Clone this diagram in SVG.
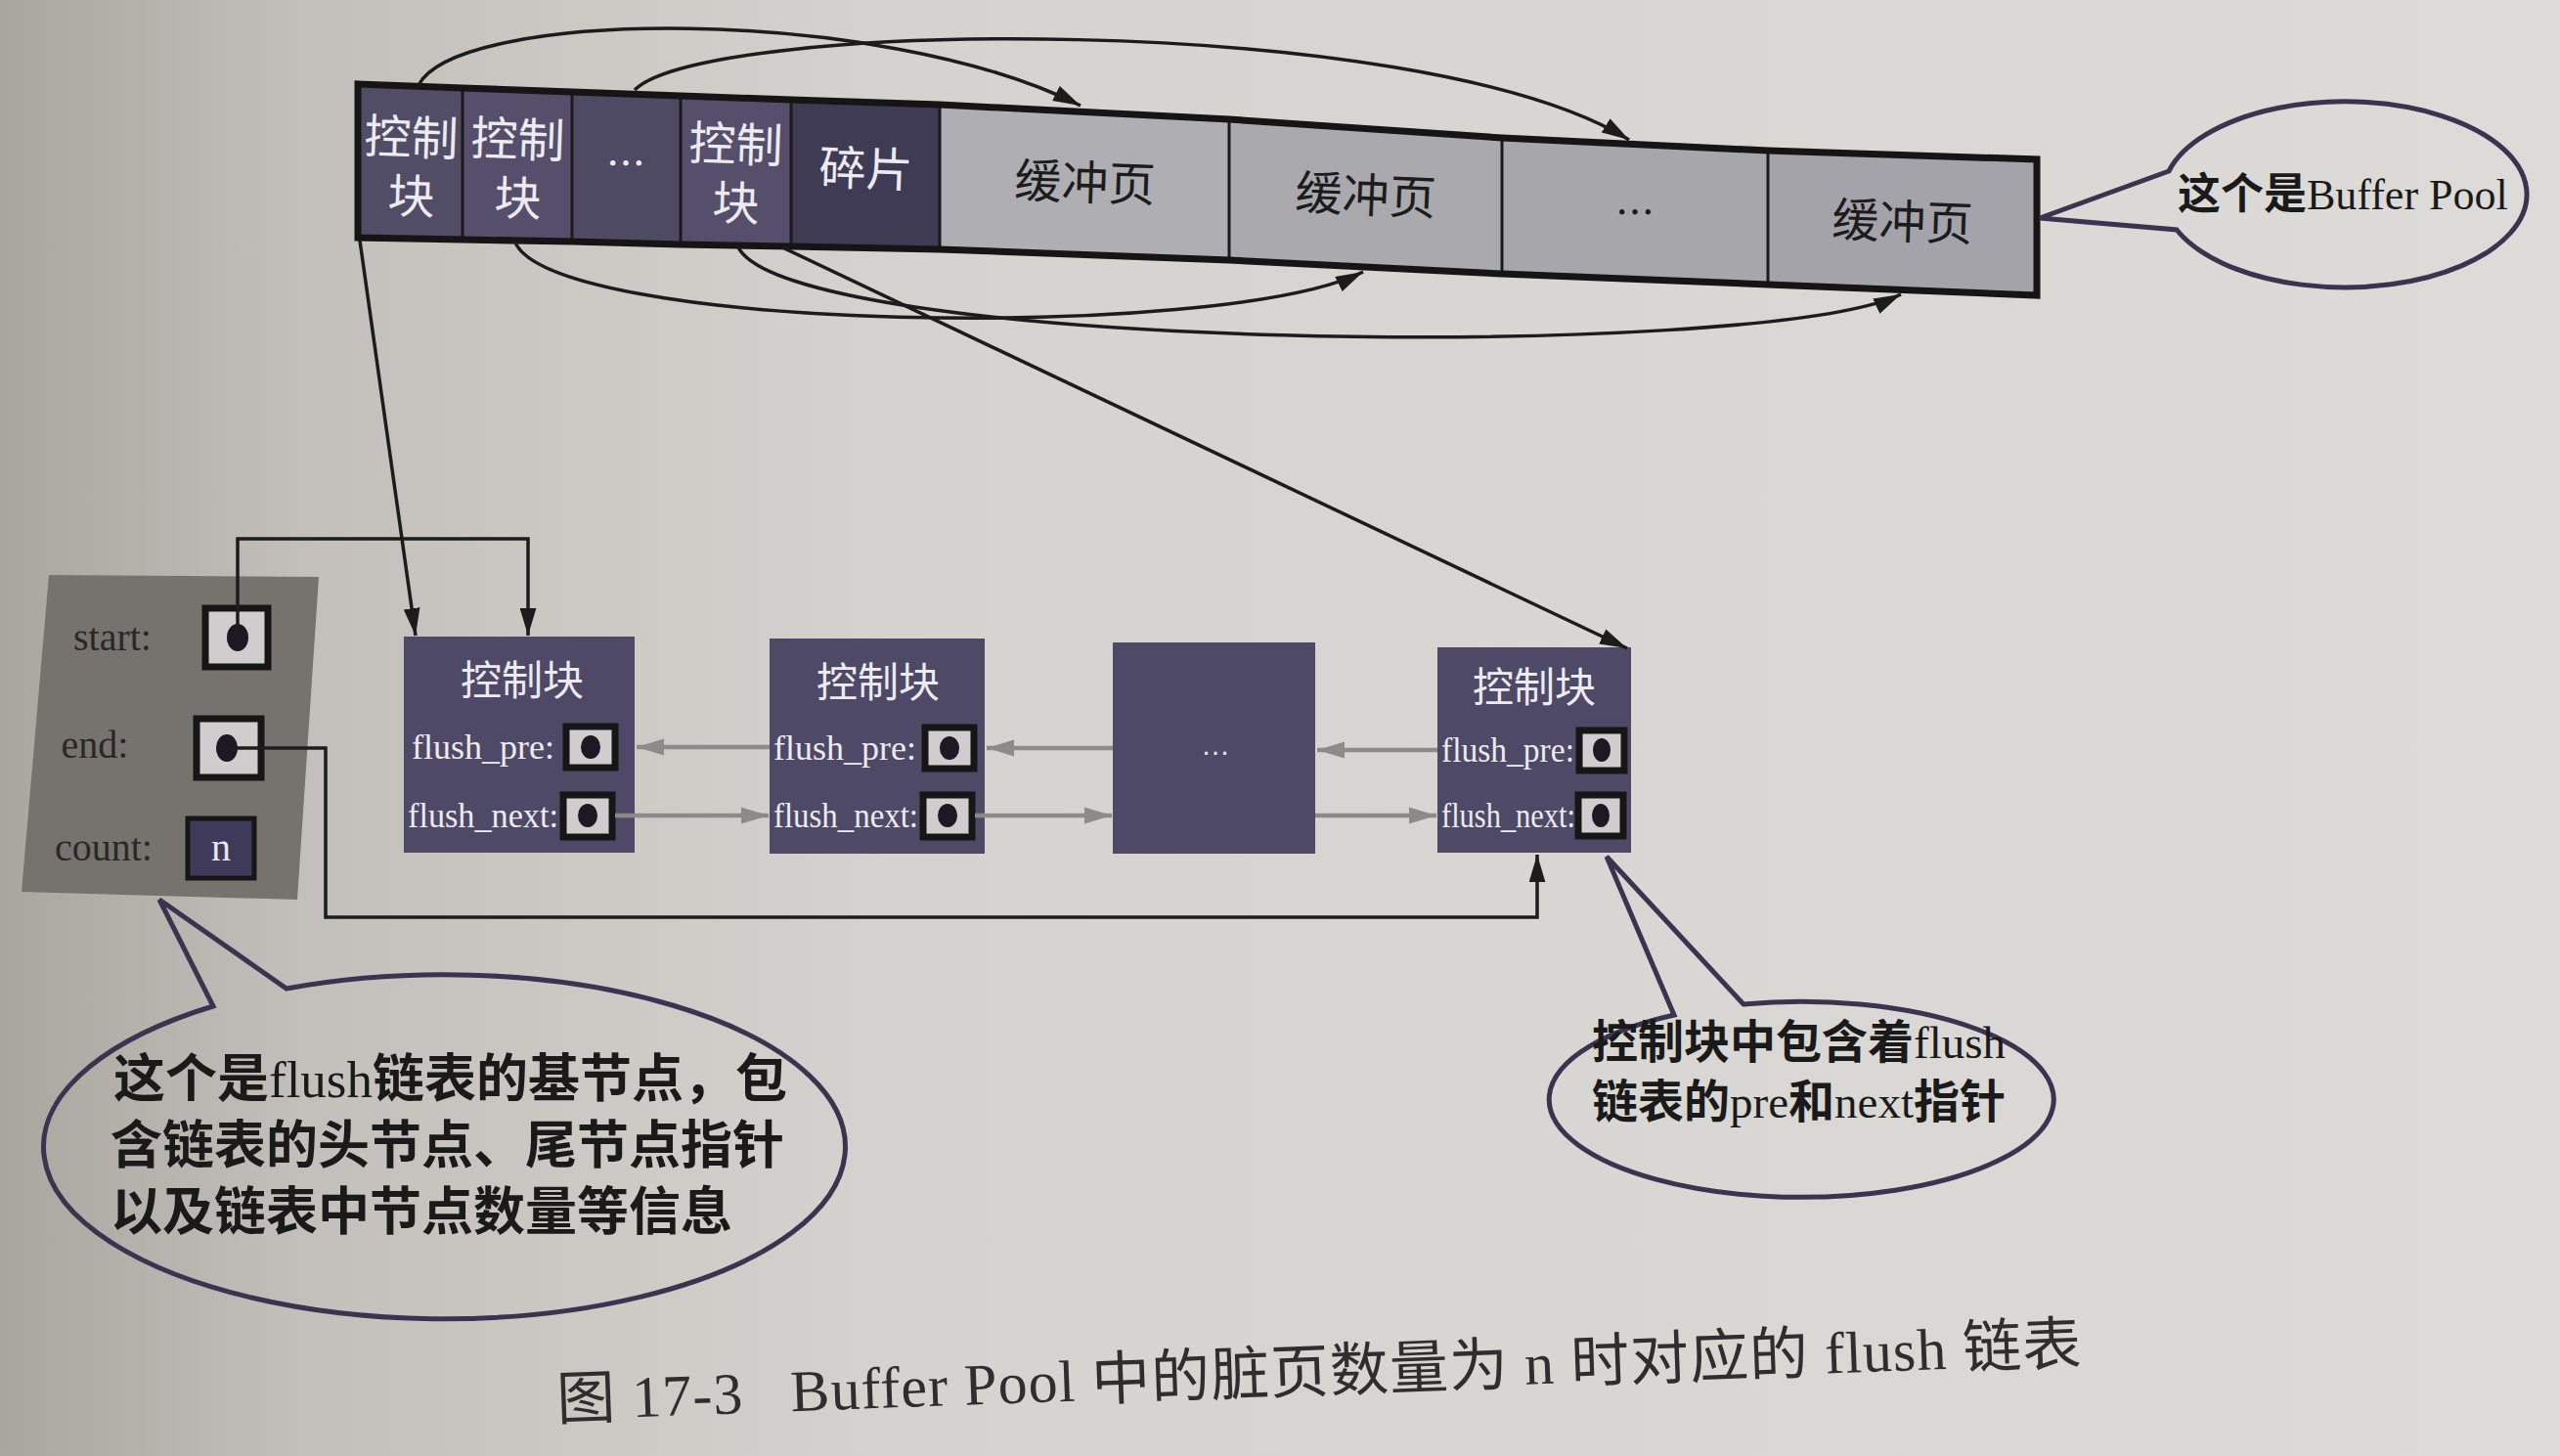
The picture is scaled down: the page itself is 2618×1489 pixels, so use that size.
<svg xmlns="http://www.w3.org/2000/svg" width="2618" height="1489" viewBox="0 0 2618 1489">
<defs>
<linearGradient id="paper" x1="0" y1="0" x2="1" y2="0">
<stop offset="0" stop-color="#a9a6a0"/>
<stop offset="0.12" stop-color="#c3c0bb"/>
<stop offset="0.35" stop-color="#d5d3cf"/>
<stop offset="1" stop-color="#dddbd8"/>
</linearGradient>
<marker id="ab" viewBox="0 0 20 12" refX="20" refY="6" markerWidth="28" markerHeight="17" markerUnits="userSpaceOnUse" orient="auto"><path d="M0,0 L20,6 L0,12 z" fill="#1c1c1c"/></marker>
<marker id="ag" viewBox="0 0 20 12" refX="20" refY="6" markerWidth="28" markerHeight="18" markerUnits="userSpaceOnUse" orient="auto"><path d="M0,0 L20,6 L0,12 z" fill="#8c8b89"/></marker>
<style>
.cjkw{font-family:"Noto Sans CJK SC",sans-serif;fill:#ecebf2;text-anchor:middle}
.cjkb{font-family:"Noto Sans CJK SC",sans-serif;fill:#1c1c1c;text-anchor:middle}
.dark{stroke:#1a1a1a;stroke-width:3}
.lbl{font-family:"Liberation Serif",serif;fill:#ecebf2;font-size:36px}
.blbl{font-family:"Liberation Serif",serif;fill:#2a2826;font-size:40px;text-anchor:middle}
.ptr{fill:#cfcdcd;stroke:#161616;stroke-width:7}
.dot{fill:#1d1824}
.fbox{fill:#4f4968}
.conn{fill:none;stroke:#1c1c1c;stroke-width:3.5}
.gconn{fill:none;stroke:#8c8b89;stroke-width:4.5}
.bub{fill:none;stroke:#3a3450;stroke-width:5;stroke-linejoin:miter}
.btxt{font-family:"Liberation Serif","Noto Sans CJK SC",serif;fill:#1a1a1a;font-weight:bold}
.lat{font-weight:normal}
</style>
</defs>
<rect x="0" y="0" width="2618" height="1489" fill="url(#paper)"/>

<g id="buffer-pool">
<polygon points="366,86 473,90 473,245 366,243" fill="#524d67"/>
<polygon points="473,90 585,94 585,247 473,245" fill="#564f6b"/>
<polygon points="585,94 696,98 696,250 585,247" fill="#4f4a63"/>
<polygon points="696,98 809,102 809,252 696,250" fill="#564f6b"/>
<polygon points="809,102 961,107 961,255 809,252" fill="#403b55"/>
<polygon points="961,107 1257,122 1257,266 961,255" fill="#afaeb3"/>
<polygon points="1257,122 1536,141 1536,280 1257,266" fill="#aaa9ae"/>
<polygon points="1536,141 1808,154 1808,291 1536,280" fill="#a7a6ab"/>
<polygon points="1808,154 2083,163 2083,302 1808,291" fill="#a4a3a9"/>
<g class="dark">
<line x1="473" y1="90" x2="473" y2="245"/>
<line x1="585" y1="94" x2="585" y2="247"/>
<line x1="696" y1="98" x2="696" y2="250"/>
<line x1="809" y1="102" x2="809" y2="252"/>
<line x1="961" y1="107" x2="961" y2="255"/>
<line x1="1257" y1="122" x2="1257" y2="266"/>
<line x1="1536" y1="141" x2="1536" y2="280"/>
<line x1="1808" y1="154" x2="1808" y2="291"/>
</g>
<polygon points="366,86 473,90 585,94 696,98 809,102 961,107 1257,122 1536,141 1808,154 2083,163 2083,302 1808,291 1536,280 1257,266 961,255 809,252 696,250 585,247 473,245 366,243" fill="none" stroke="#151515" stroke-width="7" stroke-linejoin="miter"/>
<g class="cjkw" font-size="48">
<text x="420" y="158" transform="rotate(2 420 158)">控制</text>
<text x="420" y="218" transform="rotate(2 420 218)">块</text>
<text x="529" y="160" transform="rotate(2 529 160)">控制</text>
<text x="529" y="220" transform="rotate(2 529 220)">块</text>
<text x="640" y="182" font-size="40">…</text>
<text x="752" y="165" transform="rotate(2 752 165)">控制</text>
<text x="752" y="225" transform="rotate(2 752 225)">块</text>
<text x="885" y="190" transform="rotate(2 885 190)">碎片</text>
</g>
<g class="cjkb" font-size="48">
<text x="1109" y="204" transform="rotate(2 1109 204)">缓冲页</text>
<text x="1396" y="217" transform="rotate(2.5 1396 217)">缓冲页</text>
<text x="1672" y="232" font-size="40">…</text>
<text x="1945" y="244" transform="rotate(2 1945 244)">缓冲页</text>
</g>
</g>

<g id="bubble-buffer-pool">
<path class="bub" d="M2218,175 L2086,223 L2226,235 A186,95 0 1 0 2218,175 Z"/>
<text class="btxt" x="2227" y="214" font-size="44">这个是<tspan class="lat">Buffer Pool</tspan></text>
</g>

<g id="base-node">
<polygon points="50,588 326,590 304,920 22,912" fill="#76726e"/>
<text class="blbl" x="115" y="665">start:</text>
<text class="blbl" x="97" y="775">end:</text>
<text class="blbl" x="106" y="880">count:</text>
<rect class="ptr" x="210" y="622" width="64" height="60"/>
<ellipse class="dot" cx="243" cy="652" rx="11" ry="14"/>
<rect class="ptr" x="201" y="735" width="66" height="60"/>
<ellipse class="dot" cx="232" cy="765" rx="11" ry="14"/>
<rect x="192" y="837" width="68" height="61" fill="#3f3a5a" stroke="#161616" stroke-width="5"/>
<text x="226" y="880" font-family="Liberation Serif, serif" font-size="40" fill="#e8e6ee" text-anchor="middle">n</text>
</g>

<g id="ctrl-1">
<rect class="fbox" x="413" y="651" width="236" height="221"/>
<text class="cjkw" x="534" y="711" font-size="42">控制块</text>
<text class="lbl" x="421" y="776" textLength="146" lengthAdjust="spacingAndGlyphs">flush_pre:</text>
<rect class="ptr" x="579" y="743" width="50" height="42"/>
<ellipse class="dot" cx="604" cy="764" rx="10" ry="12"/>
<text class="lbl" x="417" y="846" textLength="154" lengthAdjust="spacingAndGlyphs">flush_next:</text>
<rect class="ptr" x="576" y="813" width="50" height="43"/>
<ellipse class="dot" cx="601" cy="834" rx="10" ry="12"/>
</g>

<g id="ctrl-2">
<rect class="fbox" x="787" y="653" width="220" height="220"/>
<text class="cjkw" x="898" y="713" font-size="42">控制块</text>
<text class="lbl" x="791" y="777" textLength="146" lengthAdjust="spacingAndGlyphs">flush_pre:</text>
<rect class="ptr" x="946" y="744" width="50" height="42"/>
<ellipse class="dot" cx="971" cy="765" rx="10" ry="12"/>
<text class="lbl" x="791" y="846" textLength="148" lengthAdjust="spacingAndGlyphs">flush_next:</text>
<rect class="ptr" x="944" y="813" width="50" height="43"/>
<ellipse class="dot" cx="969" cy="834" rx="10" ry="12"/>
</g>

<g id="ctrl-dots">
<rect class="fbox" x="1138" y="657" width="207" height="216"/>
<text x="1243" y="772" font-family="Liberation Sans, sans-serif" font-size="30" fill="#e8e6ee" text-anchor="middle">…</text>
</g>

<g id="ctrl-n">
<rect class="fbox" x="1470" y="662" width="198" height="210"/>
<text class="cjkw" x="1569" y="718" font-size="42">控制块</text>
<text class="lbl" x="1474" y="779" textLength="136" lengthAdjust="spacingAndGlyphs">flush_pre:</text>
<rect class="ptr" x="1615" y="747" width="46" height="41"/>
<ellipse class="dot" cx="1638" cy="767" rx="9" ry="12"/>
<text class="lbl" x="1474" y="846" textLength="137" lengthAdjust="spacingAndGlyphs">flush_next:</text>
<rect class="ptr" x="1614" y="813" width="46" height="42"/>
<ellipse class="dot" cx="1637" cy="834" rx="9" ry="12"/>
</g>

<g id="bubble-base">
<path class="bub" d="M218,1029 L163,920 L293,1011 A410,176 0 1 1 218,1029 Z"/>
<g class="btxt" font-size="53">
<text x="116" y="1122">这个是<tspan class="lat">flush</tspan>链表的基节点，包</text>
<text x="113" y="1190">含链表的头节点、尾节点指针</text>
<text x="113" y="1258">以及链表中节点数量等信息</text>
</g>
</g>

<g id="bubble-ctrl">
<path class="bub" d="M1712,1038 L1643,876 L1783,1027 A258,100 0 1 1 1712,1038 Z"/>
<g class="btxt" font-size="47">
<text x="1628" y="1082">控制块中包含着<tspan class="lat">flush</tspan></text>
<text x="1628" y="1143">链表的<tspan class="lat">pre</tspan>和<tspan class="lat">next</tspan>指针</text>
</g>
</g>

<g id="connectors">
<path class="conn" d="M428,87 C470,8 900,5 1105,108" marker-end="url(#ab)"/>
<path class="conn" d="M649,92 C720,20 1450,10 1666,143" marker-end="url(#ab)"/>
<path class="conn" d="M526,246 C560,340 1250,350 1394,278" marker-end="url(#ab)"/>
<path class="conn" d="M754,251 C800,360 1800,370 1944,301" marker-end="url(#ab)"/>
<path class="conn" d="M368,246 L425,650" marker-end="url(#ab)"/>
<path class="conn" d="M800,253 L1664,663" marker-end="url(#ab)"/>
<path class="conn" d="M243,652 L243,551 L540,551 L540,650" marker-end="url(#ab)"/>
<path class="conn" d="M232,765 L333,765 L333,938 L1572,938 L1572,874" marker-end="url(#ab)"/>
<path class="gconn" d="M787,764 L651,764" marker-end="url(#ag)"/>
<path class="gconn" d="M1138,765 L1009,765" marker-end="url(#ag)"/>
<path class="gconn" d="M1470,767 L1347,767" marker-end="url(#ag)"/>
<path class="gconn" d="M629,834 L786,834" marker-end="url(#ag)"/>
<path class="gconn" d="M997,834 L1137,834" marker-end="url(#ag)"/>
<path class="gconn" d="M1345,834 L1469,834" marker-end="url(#ag)"/>
</g>

<g id="caption" transform="rotate(-2.1 570 1452)">
<text x="570" y="1452" font-family="Liberation Serif, Noto Sans CJK SC, serif" font-size="60" fill="#2e2e2e" xml:space="preserve" textLength="1560" lengthAdjust="spacing">图 17-3   Buffer Pool 中的脏页数量为 n 时对应的 flush 链表</text>
</g>
</svg>
